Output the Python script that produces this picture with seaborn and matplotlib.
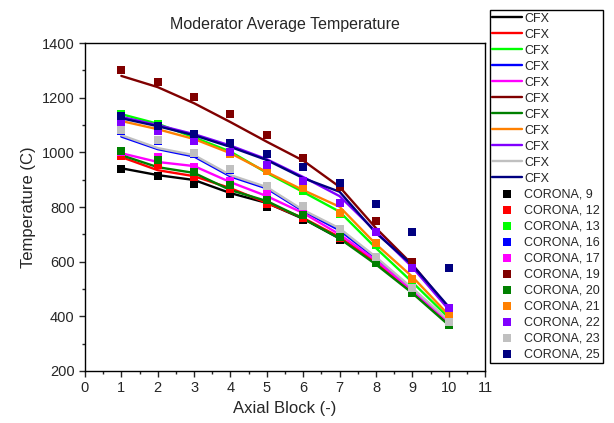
import numpy as np
import pandas as pd
import matplotlib
matplotlib.use("Agg")
import matplotlib.pyplot as plt
import seaborn as sns
from matplotlib.ticker import MultipleLocator

sns.set_style("ticks")
plt.rcParams['font.family'] = ['Liberation Sans', 'DejaVu Sans']

# Axial blocks
blocks = [1, 2, 3, 4, 5, 6, 7, 8, 9, 10]

# Case ids and colours (same order as legend)
cases = [9, 12, 13, 16, 17, 19, 20, 21, 22, 23, 25]
colors = ['#000000', '#FF0000', '#00FF00', '#0000FF', '#FF00FF', '#800000',
          '#008000', '#FF8000', '#8000FF', '#C0C0C0', '#000080']

# CFX curves (C)
cfx_9 = [942, 917, 899, 851, 815, 757, 685, 600, 490, 375]
cfx_12 = [983, 935, 913, 869, 815, 760, 690, 598, 490, 378]
cfx_13 = [1140, 1105, 1055, 1003, 925, 855, 783, 650, 525, 395]
cfx_16 = [1058, 1012, 985, 912, 868, 785, 715, 612, 500, 382]
cfx_17 = [997, 965, 950, 891, 840, 778, 700, 605, 495, 380]
cfx_19 = [1280, 1239, 1180, 1111, 1039, 970, 874, 723, 590, 430]
cfx_20 = [990, 946, 925, 862, 822, 758, 685, 590, 485, 368]
cfx_21 = [1115, 1085, 1049, 997, 928, 862, 801, 664, 545, 405]
cfx_22 = [1130, 1100, 1067, 1025, 975, 910, 840, 710, 580, 425]
cfx_23 = [1063, 1016, 990, 917, 873, 789, 722, 617, 503, 385]
cfx_25 = [1125, 1096, 1063, 1020, 972, 906, 856, 705, 588, 435]

# CORONA results (C)
cor_9 = [939, 913, 884, 847, 800, 752, 679, 597, 488, 372]
cor_12 = [987, 954, 910, 866, 811, 760, 685, 600, 492, 378]
cor_13 = [1140, 1105, 1060, 1000, 935, 860, 775, 660, 520, 390]
cor_16 = [1080, 1042, 995, 937, 875, 803, 716, 615, 500, 382]
cor_17 = [1000, 983, 946, 895, 848, 789, 700, 608, 495, 380]
cor_19 = [1300, 1258, 1203, 1140, 1063, 980, 874, 749, 600, 428]
cor_20 = [1005, 972, 928, 880, 826, 771, 690, 595, 485, 370]
cor_21 = [1120, 1085, 1050, 995, 932, 869, 778, 668, 536, 402]
cor_22 = [1108, 1078, 1043, 1001, 954, 896, 814, 710, 578, 430]
cor_23 = [1082, 1045, 997, 939, 877, 805, 719, 617, 503, 379]
cor_25 = [1133, 1096, 1067, 1034, 994, 946, 889, 811, 708, 577]

cfx = [cfx_9, cfx_12, cfx_13, cfx_16, cfx_17, cfx_19, cfx_20, cfx_21, cfx_22, cfx_23, cfx_25]
corona = [cor_9, cor_12, cor_13, cor_16, cor_17, cor_19, cor_20, cor_21, cor_22, cor_23, cor_25]

fig = plt.figure(figsize=(6.14, 4.23), dpi=100)
ax = fig.add_axes([0.1384, 0.123, 0.6516, 0.775])

# CFX lines
for vals, c in zip(cfx, colors):
    sns.lineplot(x=blocks, y=vals, color=c, lw=1.7, label='CFX', ax=ax, zorder=2)

# CORONA markers
for vals, c, n in zip(corona, colors, cases):
    sns.scatterplot(x=blocks, y=vals, color=c, marker='s', s=32, linewidth=0,
                    label=f'CORONA, {n}', ax=ax, zorder=3)

ax.set_xlim(0, 11)
ax.set_ylim(200, 1400)
ax.xaxis.set_major_locator(MultipleLocator(1))
ax.xaxis.set_minor_locator(MultipleLocator(0.5))
ax.yaxis.set_major_locator(MultipleLocator(200))
ax.yaxis.set_minor_locator(MultipleLocator(100))
ax.tick_params(which='major', length=4, width=1, labelsize=10.5)
ax.tick_params(which='minor', length=2, width=1)
for sp in ax.spines.values():
    sp.set_linewidth(1.0)
    sp.set_color('black')

ax.set_xlabel('Axial Block (-)', fontsize=12)
ax.set_ylabel('Temperature (C)', fontsize=12)
ax.set_title('Moderator Average Temperature', fontsize=11.5, pad=10)

leg = ax.legend(loc='upper left', bbox_to_anchor=(0.798, 0.976),
                bbox_transform=fig.transFigure, fontsize=9, frameon=True,
                fancybox=False, edgecolor='black', framealpha=1,
                labelspacing=0.32, handlelength=2.4, handletextpad=0.15,
                borderpad=0.2, borderaxespad=0)
leg.get_frame().set_linewidth(1.0)

fig.savefig('out.png', dpi=100)
